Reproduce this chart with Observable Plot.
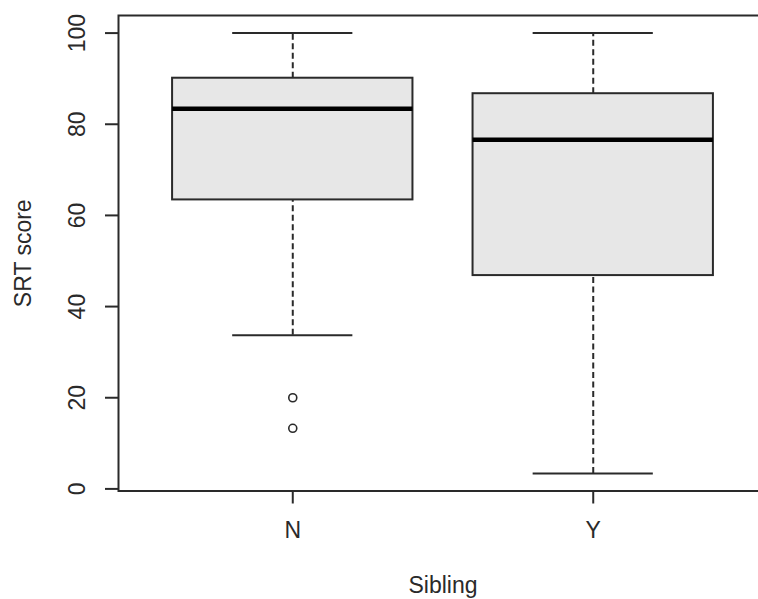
<!DOCTYPE html>
<html>
<head>
<meta charset="utf-8">
<script src="https://cdn.jsdelivr.net/npm/d3@7"></script>
<script src="https://cdn.jsdelivr.net/npm/@observablehq/plot@0.6"></script>
<style>
  html, body { margin: 0; padding: 0; background: #fff; overflow: hidden; }
  #chart { width: 758px; height: 599px; overflow: hidden; }
  #chart svg { max-width: none !important; }
</style>
</head>
<body>
<div id="chart"></div>
<script>
// ---- data ----
const categories   = ["N", "Y"];
const q1           = [63.4, 46.8];
const medians      = [83.4, 76.6];
const q3           = [90.1, 86.7];
const whiskerLow   = [33.7, 3.4];
const whiskerHigh  = [100, 100];
const outlierGroup = ["N", "N"];
const outlierValue = [20.0, 13.3];
const yTicks       = [0, 20, 40, 60, 80, 100];
const xTitle = "Sibling";
const yTitle = "SRT score";

// build table
const boxes = categories.map((c, i) => ({
  cat: c, pos: i + 1,
  q1: q1[i], med: medians[i], q3: q3[i], lo: whiskerLow[i], hi: whiskerHigh[i]
}));
const outliers = outlierValue.map((v, i) => ({
  pos: categories.indexOf(outlierGroup[i]) + 1, v
}));

const boxHalf = 0.4, capHalf = 0.2;
const ink = "#2a2a2a";
const font = "'Liberation Sans', Arial, Helvetica, sans-serif";
const lw = 2;
const fs = 23;

const chart = Plot.plot({
  width: 770,
  height: 599,
  marginLeft: 118,
  marginRight: 3,
  marginTop: 15,
  marginBottom: 108.5,
  style: { fontFamily: font, fontSize: fs + "px", color: ink, background: "#fff", overflow: "visible", maxWidth: "none" },
  x: { type: "linear", domain: [0.42, 2.58], axis: null },
  y: { domain: [-0.46, 103.86], axis: null },
  marks: [
    // whiskers (dashed)
    Plot.ruleX(boxes, { x: "pos", y1: "q3", y2: "hi", stroke: ink, strokeWidth: lw, strokeDasharray: "6,3.5" }),
    Plot.ruleX(boxes, { x: "pos", y1: "lo", y2: "q1", stroke: ink, strokeWidth: lw, strokeDasharray: "6,3.5" }),
    // staples
    Plot.ruleY(boxes, { y: "hi", x1: d => d.pos - capHalf, x2: d => d.pos + capHalf, stroke: ink, strokeWidth: lw }),
    Plot.ruleY(boxes, { y: "lo", x1: d => d.pos - capHalf, x2: d => d.pos + capHalf, stroke: ink, strokeWidth: lw }),
    // boxes
    Plot.rect(boxes, { x1: d => d.pos - boxHalf, x2: d => d.pos + boxHalf, y1: "q1", y2: "q3",
      fill: "#e7e7e7", stroke: ink, strokeWidth: lw }),
    // medians
    Plot.ruleY(boxes, { y: "med", x1: d => d.pos - boxHalf, x2: d => d.pos + boxHalf, stroke: "#000", strokeWidth: 4.5 }),
    // outliers
    Plot.dot(outliers, { x: "pos", y: "v", r: 4, stroke: ink, fill: "none", strokeWidth: 1.6 }),
    // frame
    Plot.frame({ stroke: ink, strokeWidth: 2 }),
    // y axis ticks
    Plot.axisY({ ticks: yTicks, tickSize: 13, tickFormat: () => "", label: null, stroke: ink, strokeWidth: lw }),
    // y tick labels (rotated, as in R)
    Plot.text(yTicks, { y: d => d, text: d => String(d), frameAnchor: "left", dx: -40.5,
      rotate: -90, textAnchor: "middle", lineAnchor: "middle", fill: ink, fontSize: fs }),
    // x axis ticks
    Plot.axisX({ ticks: boxes.map(d => d.pos), tickSize: 13, tickFormat: () => "", label: null, stroke: ink, strokeWidth: lw }),
    Plot.text(boxes, { x: "pos", text: "cat", frameAnchor: "bottom", dy: 39.5, lineAnchor: "middle", fill: ink, fontSize: fs }),
    // axis titles
    Plot.text([xTitle], { text: d => d, frameAnchor: "bottom", dy: 95, lineAnchor: "middle", fill: ink, fontSize: fs }),
    Plot.text([yTitle], { text: d => d, frameAnchor: "left", dx: -95, rotate: -90, textAnchor: "middle", lineAnchor: "middle", fill: ink, fontSize: fs })
  ]
});

document.getElementById("chart").appendChild(chart);
</script>
</body>
</html>
